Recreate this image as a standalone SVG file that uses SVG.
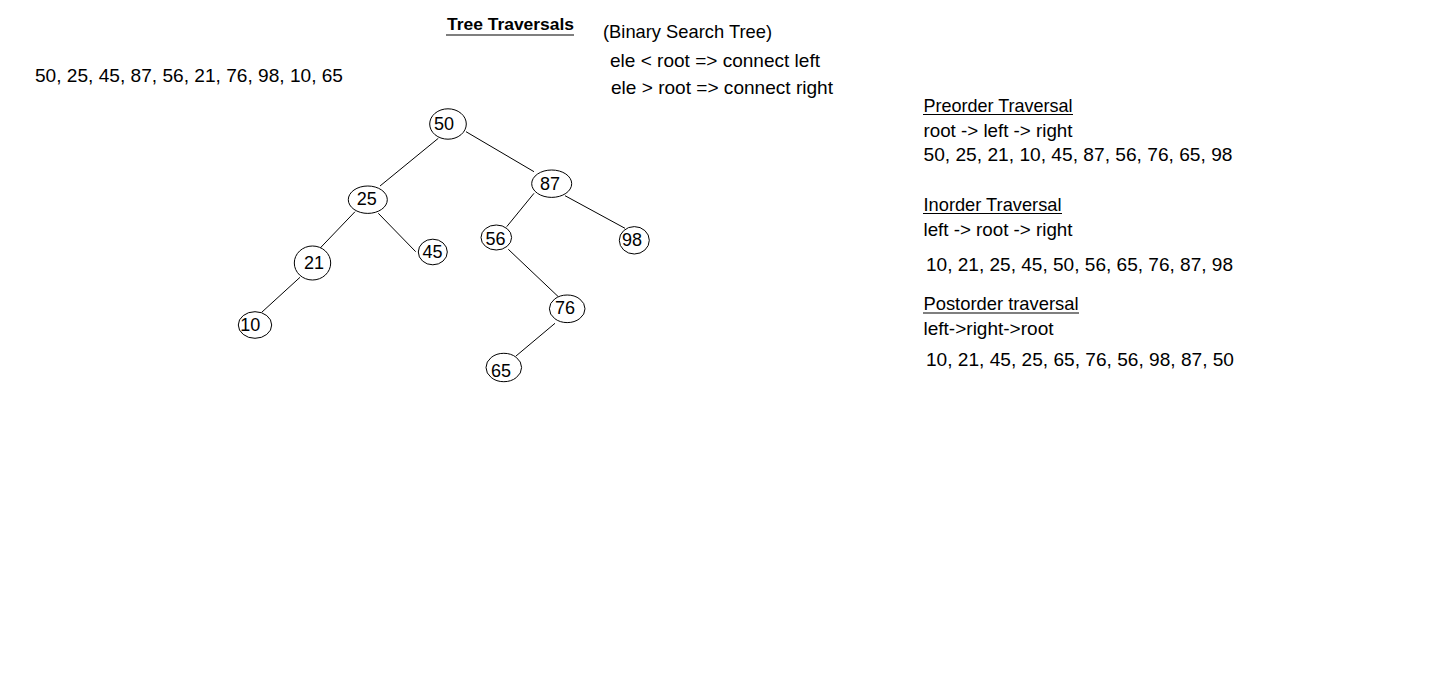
<svg xmlns="http://www.w3.org/2000/svg" width="1436" height="677" viewBox="0 0 1436 677">
<style>
.t{font-family:"Liberation Sans",Arial,sans-serif;font-size:18.5px;fill:#000}
.b{font-weight:bold;font-size:16px}
.n{font-family:"Liberation Sans",Arial,sans-serif;font-size:18px;fill:#000;text-anchor:middle}
.nd ellipse{fill:#fff;stroke:#000;stroke-width:1}
.e line{stroke:#000;stroke-width:1}
.u{stroke:#000;stroke-width:1.2}
</style>
<rect width="1436" height="677" fill="#fff"/>
<g id="texts">
<text class="t" x="35" y="82" textLength="308" lengthAdjust="spacingAndGlyphs">50, 25, 45, 87, 56, 21, 76, 98, 10, 65</text>
<text class="t b" x="447" y="30" textLength="127" lengthAdjust="spacingAndGlyphs">Tree Traversals</text>
<line class="u" x1="446" y1="35" x2="574" y2="35" stroke-width="1.6"/>
<text class="t" x="603" y="38" textLength="169" lengthAdjust="spacingAndGlyphs">(Binary Search Tree)</text>
<text class="t" x="610" y="66.5" textLength="210" lengthAdjust="spacingAndGlyphs">ele &lt; root =&gt; connect left</text>
<text class="t" x="611" y="94" textLength="222" lengthAdjust="spacingAndGlyphs">ele &gt; root =&gt; connect right</text>
<text class="t" x="923.5" y="111.5" textLength="149" lengthAdjust="spacingAndGlyphs">Preorder Traversal</text>
<line class="u" x1="923" y1="114.5" x2="1073" y2="114.5"/>
<text class="t" x="923.5" y="136.5" textLength="149" lengthAdjust="spacingAndGlyphs">root -&gt; left -&gt; right</text>
<text class="t" x="923.5" y="160.5" textLength="309" lengthAdjust="spacingAndGlyphs">50, 25, 21, 10, 45, 87, 56, 76, 65, 98</text>
<text class="t" x="923.5" y="210.5" textLength="138" lengthAdjust="spacingAndGlyphs">Inorder Traversal</text>
<line class="u" x1="923" y1="213.5" x2="1062" y2="213.5"/>
<text class="t" x="923.5" y="235.5" textLength="149" lengthAdjust="spacingAndGlyphs">left -&gt; root -&gt; right</text>
<text class="t" x="926" y="270.5" textLength="307" lengthAdjust="spacingAndGlyphs">10, 21, 25, 45, 50, 56, 65, 76, 87, 98</text>
<text class="t" x="923.5" y="310" textLength="155" lengthAdjust="spacingAndGlyphs">Postorder traversal</text>
<line class="u" x1="923" y1="313" x2="1079" y2="313"/>
<text class="t" x="923.5" y="334.5" textLength="130" lengthAdjust="spacingAndGlyphs">left-&gt;right-&gt;root</text>
<text class="t" x="926" y="366" textLength="308" lengthAdjust="spacingAndGlyphs">10, 21, 45, 25, 65, 76, 56, 98, 87, 50</text>
</g>
<g id="connectors" class="e">
<line x1="438.3" y1="138.3" x2="380" y2="186"/>
<line x1="466" y1="131.7" x2="534" y2="171.7"/>
<line x1="355" y1="211.7" x2="318.3" y2="250"/>
<line x1="378.3" y1="213.3" x2="415.7" y2="251.7"/>
<line x1="534" y1="193.3" x2="506.7" y2="226.7"/>
<line x1="565" y1="195.7" x2="625" y2="228.3"/>
<line x1="300" y1="277.3" x2="261.7" y2="312.3"/>
<line x1="508.3" y1="249.3" x2="558.3" y2="296.7"/>
<line x1="555" y1="323.3" x2="516" y2="356"/>
</g>
<g id="node50" class="nd"><ellipse cx="448" cy="124" rx="18.3" ry="15.2"/><text class="n" x="444" y="129.5">50</text></g>
<g id="node87" class="nd"><ellipse cx="551.7" cy="183.7" rx="20" ry="13.7"/><text class="n" x="550" y="189.5">87</text></g>
<g id="node25" class="nd"><ellipse cx="367.8" cy="199.7" rx="19.5" ry="13.7"/><text class="n" x="366.7" y="204.5">25</text></g>
<g id="node56" class="nd"><ellipse cx="496.3" cy="237.5" rx="15.3" ry="12.5"/><text class="n" x="495.5" y="244.5">56</text></g>
<g id="node98" class="nd"><ellipse cx="634.3" cy="240.3" rx="15" ry="13.7"/><text class="n" x="632" y="246">98</text></g>
<g id="node45" class="nd"><ellipse cx="432.8" cy="252" rx="14.5" ry="12.8"/><text class="n" x="432.5" y="257.5">45</text></g>
<g id="node21" class="nd"><ellipse cx="312.5" cy="263" rx="18.2" ry="17"/><text class="n" x="314" y="269">21</text></g>
<g id="node10" class="nd"><ellipse cx="255" cy="325" rx="16.7" ry="13.3"/><text class="n" x="250.3" y="330.8">10</text></g>
<g id="node76" class="nd"><ellipse cx="567.2" cy="308.8" rx="17.8" ry="13.8"/><text class="n" x="565" y="313.5">76</text></g>
<g id="node65" class="nd"><ellipse cx="503.8" cy="367.5" rx="17.8" ry="14.2"/><text class="n" x="501" y="376.8">65</text></g>
</svg>
